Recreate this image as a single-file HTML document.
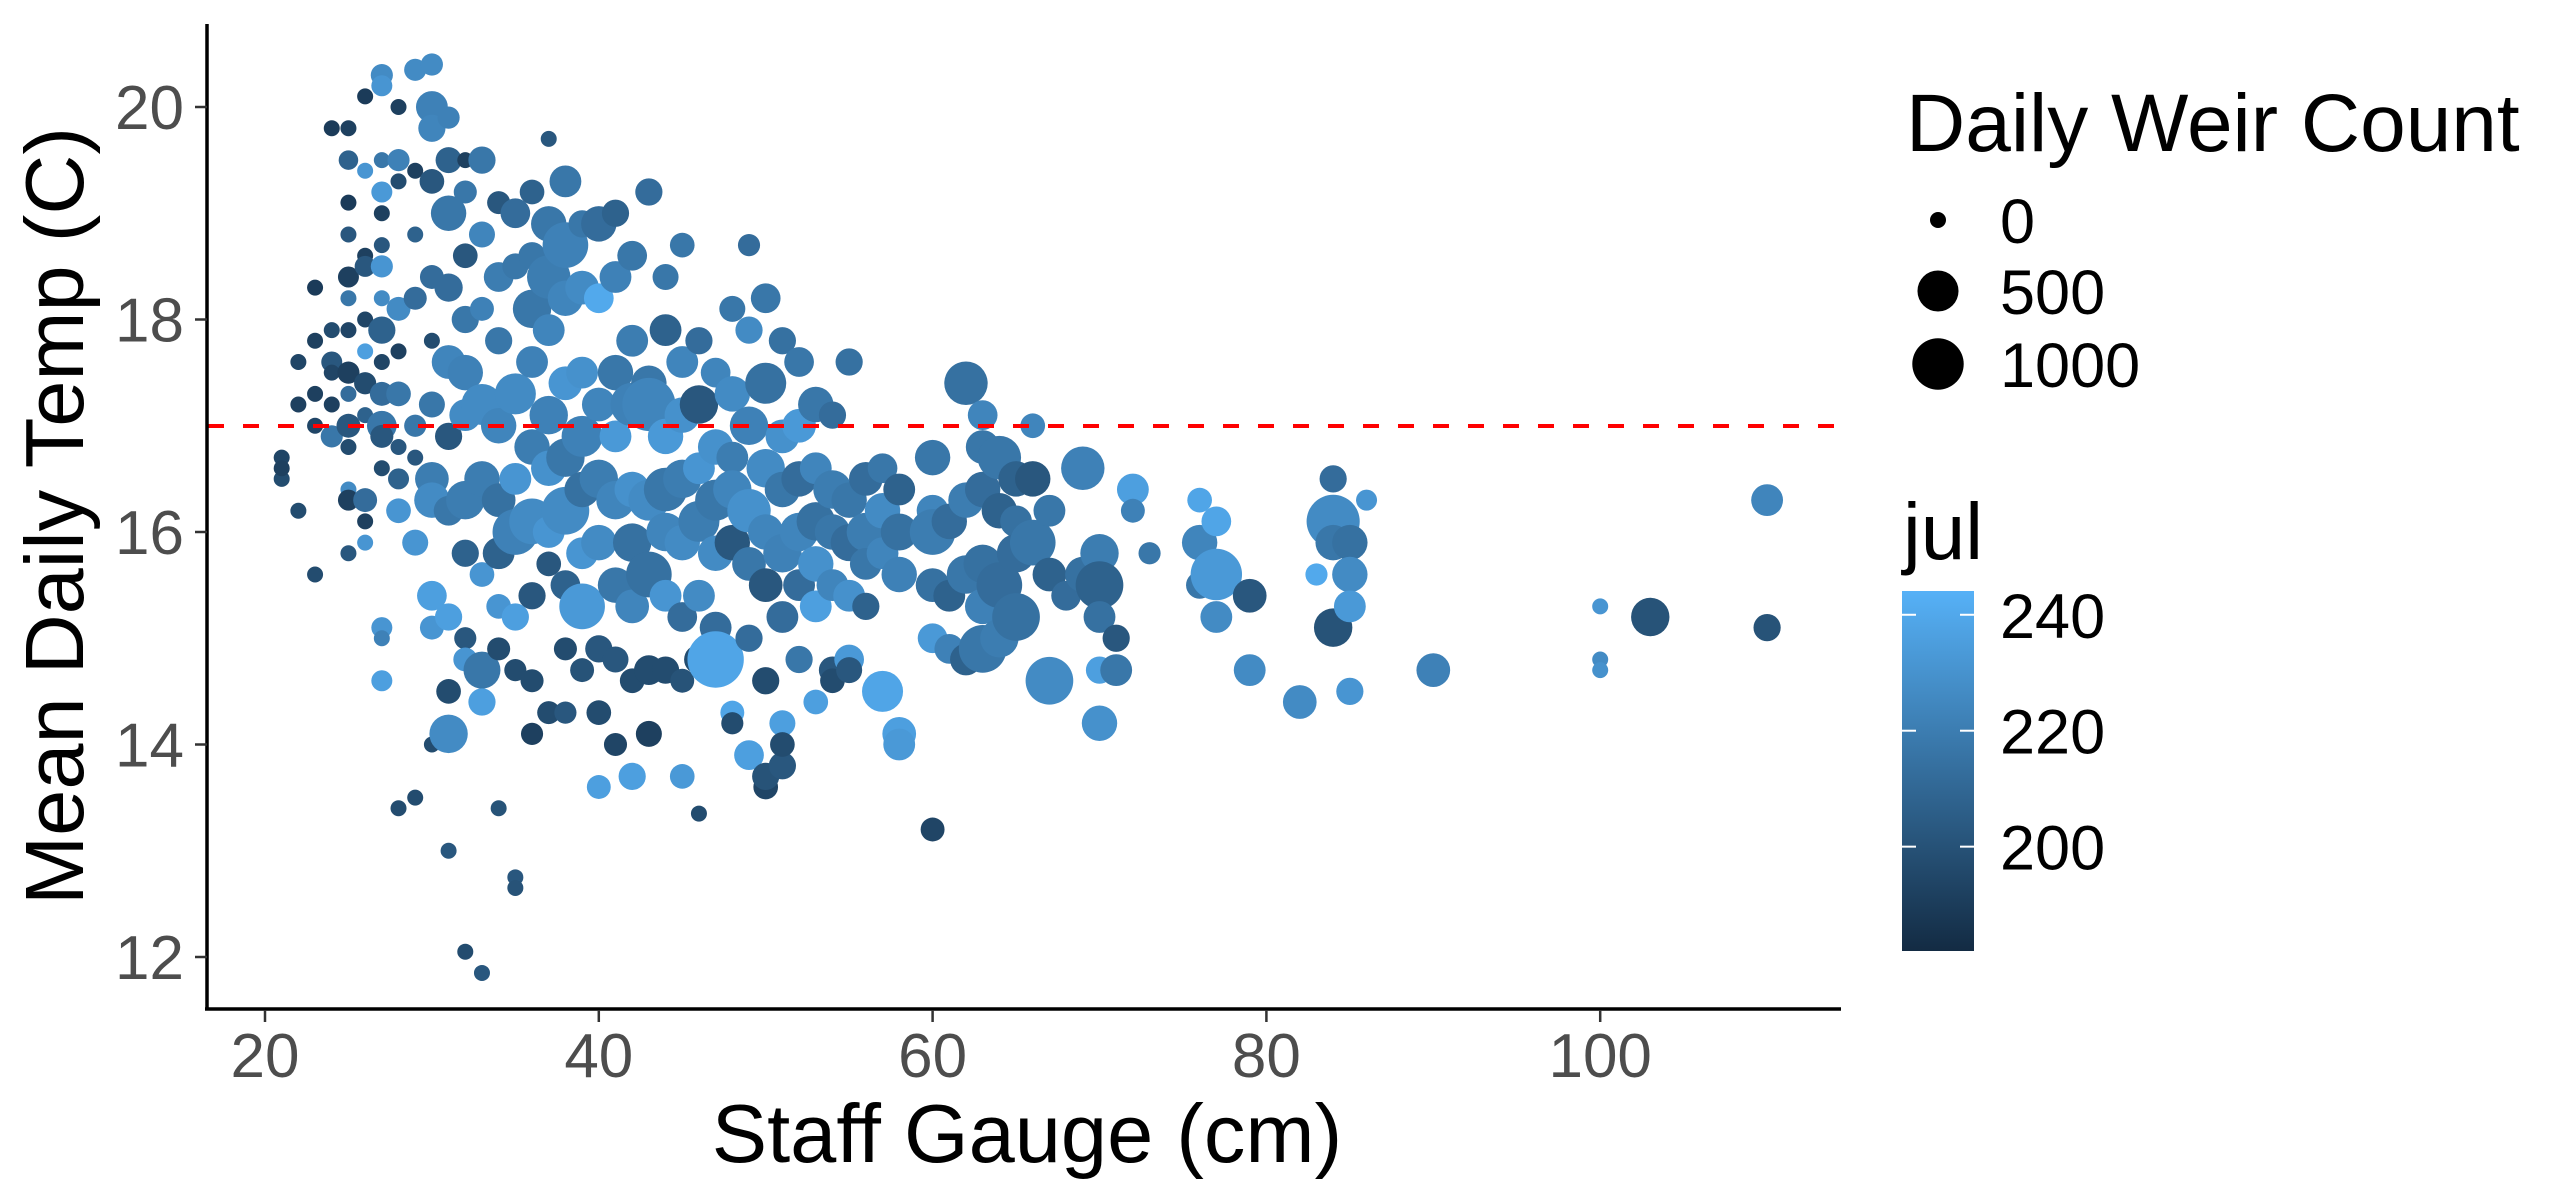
<!DOCTYPE html>
<html><head><meta charset="utf-8"><style>
html,body{margin:0;padding:0;background:#fff;}
svg{display:block;font-family:"Liberation Sans",sans-serif;}
</style></head><body>
<svg id="chart" width="2571" height="1203" viewBox="0 0 2571 1203" xmlns="http://www.w3.org/2000/svg">
<defs>
<linearGradient id="jg" x1="0" y1="1" x2="0" y2="0">
<stop offset="0" stop-color="#132B43"/><stop offset="1" stop-color="#56B1F7"/>
</linearGradient>
</defs>
<g id="points"></g>
<line x1="208" y1="426" x2="1841" y2="426" stroke="#ff0000" stroke-width="4" stroke-dasharray="16,19"/>
<line x1="207" y1="24" x2="207" y2="1010" stroke="#000" stroke-width="3.5"/>
<line x1="205" y1="1009" x2="1841" y2="1009" stroke="#000" stroke-width="3.5"/>
<g id="xticks"></g>
<g id="yticks"></g>
<text x="1027" y="1162" font-size="83" text-anchor="middle" fill="#000">Staff Gauge (cm)</text>
<text transform="translate(83,516) rotate(-90)" font-size="83" text-anchor="middle" fill="#000">Mean Daily Temp (C)</text>
<g>
<text x="1906" y="151" font-size="82" fill="#000">Daily Weir Count</text>
<g id="sizeleg"></g>
</g>
<g>
<text x="1903" y="559" font-size="80" fill="#000">jul</text>
<rect x="1902" y="591" width="72" height="360" fill="url(#jg)"/>
<g id="colleg"></g>
</g>
</svg>
<script>
const gaugeCols=[21,22,23,24,25,26,27,28,29,30,31,32,33,34,35,36,37,38,39,40,41,42,43,44,45,46,47,48,49,50,51,52,53,54,55,56,57,58,60,61,62,63,64,65,66,67,68,69,70,71,72,73,76,77,79,82,83,84,85,86,90,100,103,110];
const tempCols=[
[16.7,16.5,16.6],[17.2,16.2,17.6],[18.3,17.8,17.0,15.6,17.3],[19.8,17.9,17.6,17.2,16.9,17.5],
[19.8,19.5,19.1,18.8,18.4,18.2,17.9,17.5,17.3,17.0,16.8,16.4,16.3,15.8],
[20.1,19.4,18.6,18.5,18.0,17.7,17.4,17.1,16.3,16.1,15.9],
[20.3,20.2,19.5,19.2,19.0,18.7,18.5,18.2,17.9,17.6,17.3,17.0,16.9,16.6,15.1,15.0,14.6],
[20.0,19.5,19.3,18.1,17.7,17.3,16.8,16.5,16.2,13.4],
[20.35,19.4,18.8,18.2,17.0,16.7,15.9,13.5],
[20.4,20.0,19.8,19.3,18.4,17.8,17.2,16.5,16.3,15.4,15.1,14.0],
[19.9,19.5,19.0,18.3,17.6,16.9,16.2,15.2,14.1,14.5,13.0],
[19.5,19.2,18.6,18.0,17.5,17.1,16.3,15.8,15.0,14.8,12.05],
[19.5,18.8,18.1,17.2,16.5,15.6,14.7,14.4,11.85],
[19.1,18.4,17.8,17.0,16.3,15.8,15.3,14.9,13.4],
[19.0,18.5,17.3,16.5,16.0,15.2,14.7,12.75,12.65],
[19.2,18.6,18.1,17.6,16.8,16.1,15.4,14.6,14.1],
[19.7,18.9,18.4,17.9,17.1,16.6,16.0,15.7,14.3],
[19.3,18.7,18.2,17.4,16.7,16.2,15.5,14.9,14.3],
[18.9,18.3,17.5,16.9,16.4,15.8,15.3,14.7],
[18.9,18.2,17.2,16.5,15.9,14.9,14.3,13.6],
[19.0,18.4,17.5,16.9,16.3,15.5,14.8,14.0],
[18.6,17.8,17.2,16.4,15.9,15.3,14.6,13.7],
[19.2,17.4,17.2,16.3,15.6,14.7,14.1],
[18.4,17.9,16.9,16.4,16.0,15.4,14.7],
[18.7,17.6,17.1,16.5,15.9,15.2,14.6,13.7],
[17.8,17.2,16.6,16.1,15.4,14.8,13.35],
[17.5,16.8,16.3,15.8,15.1,14.8],
[18.1,17.3,16.7,16.4,15.9,14.3,14.2],
[18.7,17.9,17.0,16.2,15.7,15.0,13.9],
[18.2,17.4,16.6,16.0,15.5,14.6,13.6,13.7],
[17.8,16.9,16.4,15.8,15.2,14.2,13.8,14.0],
[17.6,17.0,16.5,16.0,15.5,14.8],
[17.2,16.6,16.1,15.7,15.3,14.4],
[17.1,16.4,16.0,15.5,14.7,14.6],
[17.6,16.3,15.9,15.4,14.8,14.7],
[16.5,16.0,15.7,15.3],
[16.6,16.2,15.8,14.5],
[16.4,16.0,15.6,14.1,14.0],
[16.7,16.2,16.0,15.5,15.0,13.2],
[16.1,15.4,14.9],
[17.4,16.3,15.6,14.8],
[17.1,16.8,16.4,15.7,15.3,14.9],
[16.7,16.2,15.5,15.0],
[16.5,16.1,15.8,15.2],
[17.0,16.5,15.9],
[16.2,15.6,14.6],
[15.4],
[16.6,15.6],
[15.8,15.5,14.2,14.7,15.2],
[15.0,14.7],
[16.4,16.2],
[15.8],
[16.3,15.9,15.5],
[15.6,15.2,16.1],
[15.4,14.7],
[14.4],
[15.6],
[16.5,16.1,15.1,15.9],
[15.9,15.6,15.3,14.5],
[16.3],
[14.7],
[15.3,14.8,14.7],
[15.2],
[16.3,15.1]
];
const countCols=[
[0,0,0],[0,0,0],[0,0,0,0,0],[0,0,20,0,30,0],
[0,10,0,0,20,0,0,30,0,50,0,0,20,0],
[0,0,0,20,0,0,30,0,50,0,0],
[30,20,0,20,0,0,30,0,100,0,50,150,40,0,20,0,20],
[0,30,0,50,0,60,0,20,60,0],
[30,0,0,40,30,0,80,0],
[30,200,100,60,50,0,80,250,300,150,50,0],
[30,80,300,120,250,100,150,100,400,60,0],
[0,40,60,100,300,200,400,100,30,50,0],
[100,80,50,500,300,60,350,100,0],
[40,150,100,300,250,200,60,40,0],
[150,80,500,200,700,100,30,0,0],
[60,100,400,200,300,700,100,40,30],
[0,300,600,200,400,300,200,60,40],
[200,700,300,250,400,800,150,40,30],
[100,250,200,500,300,200,700,50],
[300,150,250,400,300,100,60,50],
[100,200,300,200,400,300,80,40],
[150,200,600,300,400,250,60,100],
[100,300,1100,500,700,150,80],
[80,200,300,600,400,200,100],
[60,200,300,400,300,150,50,60],
[100,400,200,500,200,150,0],
[150,300,500,300,200,1300],
[80,300,200,400,300,50,30],
[30,100,400,600,250,100,150],
[150,500,400,300,250,100,60,100],
[100,250,300,400,200,80,100,60],
[150,250,300,400,200,100],
[300,200,400,300,200,60],
[100,400,300,200,100,60],
[100,300,350,200,150,80],
[250,400,200,100],
[150,300,200,500],
[200,350,300,250,200],
[300,200,700,250,150,50],
[300,200,150],
[600,300,400,200],
[150,250,300,400,300,800],
[600,300,700,400],
[300,200,400,800],
[60,300,700],
[200,250,800],
[150],
[600,300],
[400,800,300,100,200],
[100,200],
[200,50],
[30],
[60,300,100],
[1000,200,150],
[250,200],
[250],
[30],
[100,1100,400,300],
[300,300,200,100],
[20],
[250],
[0,0,0],
[400],
[200,100]
];
const julCols=[
[192,195,190],[190,195,192],[188,190,192,195,190],[188,195,200,190,215,192],
[190,205,188,200,190,215,192,190,210,200,195,225,190,200],
[188,230,190,200,192,235,195,205,210,190,230],
[225,230,215,232,190,200,230,225,205,192,210,215,200,195,230,220,235],
[190,220,195,225,190,215,200,205,230,195],
[225,190,205,210,215,200,230,195],
[225,220,222,200,210,195,215,218,225,235,230,195],
[220,205,215,210,222,200,215,235,225,195,200],
[190,215,200,215,220,225,218,205,200,230,195],
[215,222,220,225,218,230,215,235,200],
[200,218,215,222,212,205,230,195,198],
[210,215,225,230,220,235,195,200,198],
[205,215,215,220,218,225,200,195,190],
[200,215,218,222,220,228,230,200,195],
[215,220,222,230,215,225,205,195,200],
[215,225,228,220,212,230,232,198],
[210,240,222,218,225,200,195,235],
[205,220,215,232,222,215,200,192],
[215,218,220,228,212,222,195,235],
[210,215,222,225,212,195,190],
[215,205,232,215,222,230,195],
[215,222,228,218,225,210,198,232],
[210,200,230,218,225,195,195],
[222,228,215,225,210,238],
[215,225,218,222,200,238,195],
[210,225,220,228,215,210,235],
[215,212,225,222,200,195,192,198],
[212,228,215,220,210,235,200,195],
[215,232,210,222,210,215],
[215,222,212,228,235,235],
[210,218,215,222,200,195],
[212,215,210,228,232,200],
[210,218,215,205],
[215,225,222,238],
[205,212,220,235,232],
[215,222,218,212,232,192],
[210,205,220],
[212,218,215,205],
[222,215,210,212,220,215],
[215,205,210,218],
[205,212,210,212],
[222,200,215],
[215,205,225],
[210],
[220,212],
[218,205,228,235,212],
[200,215],
[235,220],
[215],
[238,222,215],
[232,225,238],
[200,225],
[225],
[240],
[210,225,198,215],
[212,225,232,230],
[230],
[220],
[230,225,228],
[198],
[222,198]
];
const xTicks=[20,40,60,80,100];
const yTicks=[12,14,16,18,20];
const sizeBreaks=[0,500,1000];
const julBreaks=[200,220,240];

const NS="http://www.w3.org/2000/svg";
function xs(v){return 265+(v-20)*16.69;}
function ys(v){return 107+(20-v)*106.25;}
function rs(c){return 8+0.56*Math.sqrt(c);}
const JMIN=182,JMAX=244.1;
function jcol(j){
  let t=Math.max(0,Math.min(1,(j-JMIN)/(JMAX-JMIN)));
  const a=[0x13,0x2B,0x43],b=[0x56,0xB1,0xF7];
  const c=a.map((v,i)=>Math.round(v+(b[i]-v)*Math.pow(t,0.9)));
  return "rgb("+c.join(",")+")";
}
function mk(tag,attrs,parent){const e=document.createElementNS(NS,tag);for(const k in attrs)e.setAttribute(k,attrs[k]);parent.appendChild(e);return e;}

const pts=document.getElementById("points");
gaugeCols.forEach((g,i)=>{
  tempCols[i].forEach((t,k)=>{
    const c=mk("circle",{cx:xs(g),cy:ys(t),r:rs(countCols[i][k]),fill:jcol(julCols[i][k])},pts);
    
    
  });
});

const xt=document.getElementById("xticks");
xTicks.forEach(v=>{
  const l=mk("line",{x1:xs(v),x2:xs(v),y1:1010,y2:1022,stroke:"#333","stroke-width":2.5},xt);
  
  
  const t=mk("text",{x:xs(v),y:1077,"font-size":62,"text-anchor":"middle",fill:"#4d4d4d"},xt);
  t.textContent=v;
  
  
});
const yt=document.getElementById("yticks");
yTicks.forEach(v=>{
  const l=mk("line",{x1:195,x2:207,y1:ys(v),y2:ys(v),stroke:"#333","stroke-width":2.5},yt);
  
  
  const t=mk("text",{x:184,y:ys(v)+22,"font-size":62,"text-anchor":"end",fill:"#4d4d4d"},yt);
  t.textContent=v;
  
  
});
const sl=document.getElementById("sizeleg");
const sy=[220,291,364];
sizeBreaks.forEach((v,i)=>{
  const c=mk("circle",{cx:1938,cy:sy[i],r:rs(v),fill:"#000"},sl);
  
  
  const t=mk("text",{x:2000,y:sy[i]+23,"font-size":63,fill:"#000"},sl);
  t.textContent=v;
  
  
});
const cl=document.getElementById("colleg");
function cby(j){return 951-(j-JMIN)/(JMAX-JMIN)*360;}
julBreaks.forEach(v=>{
  const y=cby(v);
  const a=mk("line",{x1:1902,x2:1916,y1:y,y2:y,stroke:"#fff","stroke-width":2},cl);
  
  
  const b=mk("line",{x1:1960,x2:1974,y1:y,y2:y,stroke:"#fff","stroke-width":2},cl);
  
  
  const t=mk("text",{x:2000,y:y+23,"font-size":63,fill:"#000"},cl);
  t.textContent=v;
  
  
});
</script>
</body></html>
